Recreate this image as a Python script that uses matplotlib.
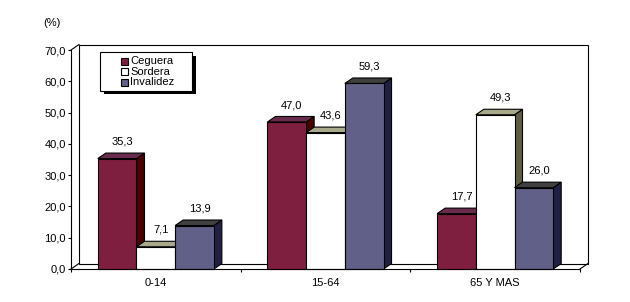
import matplotlib
matplotlib.use('Agg')
import matplotlib.pyplot as plt
from matplotlib.patches import Polygon, Rectangle
from matplotlib.ticker import FuncFormatter, MultipleLocator

plt.rcParams['font.family'] = ['Liberation Sans', 'DejaVu Sans']

# data
categories = ['0-14', '15-64', '65 Y MAS']
series_names = ['Ceguera', 'Sordera', 'Invalidez']
ceguera = [35.3, 47.0, 17.7]
sordera = [7.1, 43.6, 49.3]
invalidez = [13.9, 59.3, 26.0]
series_values = [ceguera, sordera, invalidez]

# colours per series: front, top, side
front_colors = ['#7f1f3f', '#ffffff', '#606088']
top_colors = ['#6a2a4c', '#a8a88a', '#404040']
side_colors = ['#480000', '#5e5e40', '#202044']

W, H = 630, 302
fig = plt.figure(figsize=(W / 100, H / 100), dpi=100)
ax = fig.add_axes([71 / W, 1 - 269 / H, 509 / W, 219 / H])
ax.set_xlim(0, 3)
ax.set_ylim(0, 70)
ax.patch.set_visible(False)

# depth offset of the 3d look, in data units
dx = 8 / 509 * 3
dy = 5.5 / 219 * 70
lw = 0.8

# back wall and floor
ax.add_patch(Rectangle((dx, dy), 3, 70, facecolor='white', edgecolor='black',
                       lw=lw, clip_on=False, zorder=1))
for xs, ys in [([0, dx], [0, dy]), ([0, dx], [70, 70 + dy]), ([3, 3 + dx], [0, dy])]:
    ax.plot(xs, ys, color='black', lw=lw, clip_on=False, zorder=1)

# bars
bar_w = 0.228
z = 2
for i in range(len(categories)):
    start = i + 0.5 - 1.5 * bar_w
    for k, vals in enumerate(series_values):
        h = vals[i]
        x0 = start + k * bar_w
        x1 = x0 + bar_w
        side = Polygon([(x1, 0), (x1 + dx, dy), (x1 + dx, h + dy), (x1, h)],
                       closed=True, facecolor=side_colors[k], edgecolor='black',
                       lw=lw, clip_on=False, zorder=z)
        top = Polygon([(x0, h), (x0 + dx, h + dy), (x1 + dx, h + dy), (x1, h)],
                      closed=True, facecolor=top_colors[k], edgecolor='black',
                      lw=lw, clip_on=False, zorder=z)
        front = Rectangle((x0, 0), bar_w, h, facecolor=front_colors[k],
                          edgecolor='black', lw=lw, clip_on=False, zorder=z)
        ax.add_patch(side)
        ax.add_patch(top)
        ax.add_patch(front)
        z += 1
        ax.annotate(f'{h:.1f}'.replace('.', ','), xy=(x0 + bar_w / 2, h),
                    xytext=(3.6, 12.2), textcoords='offset points',
                    ha='center', va='center', fontsize=8, zorder=50)

# axes
for s in ['top', 'right']:
    ax.spines[s].set_visible(False)
for s in ['left', 'bottom']:
    ax.spines[s].set_linewidth(lw)
    ax.spines[s].set_zorder(40)

ax.yaxis.set_major_locator(MultipleLocator(10))
ax.yaxis.set_major_formatter(FuncFormatter(lambda v, p: f'{v:.1f}'.replace('.', ',')))
ax.tick_params(axis='y', length=2.2, width=lw, pad=1.5, labelsize=8)

ax.set_xticks([0, 1, 2, 3])
ax.set_xticklabels([''] * 4)
ax.set_xticks([0.5, 1.5, 2.5], minor=True)
ax.set_xticklabels(categories, minor=True)
ax.tick_params(axis='x', which='major', length=2.2, width=lw)
ax.tick_params(axis='x', which='minor', length=0, pad=6.5, labelsize=8)

fig.text(51.7 / W, 1 - 22.7 / H, '(%)', ha='center', va='center', fontsize=8)

# legend drawn by hand
def fx(x):
    return x / W

def fy(y):
    return 1 - y / H

fig.add_artist(Rectangle((fx(104), fy(94)), fx(196) - fx(104), fy(56) - fy(94),
                         facecolor='black', edgecolor='none', zorder=60))
fig.add_artist(Rectangle((fx(100), fy(91)), fx(192) - fx(100), fy(52.3) - fy(91),
                         facecolor='white', edgecolor='black', lw=lw, zorder=61))
for k, name in enumerate(series_names):
    yc = 61.3 + k * 10.4
    fig.add_artist(Rectangle((fx(121), fy(yc + 3.5)), fx(7), 7 / H,
                             facecolor=front_colors[k], edgecolor='black',
                             lw=lw, zorder=62))
    fig.text(fx(130), fy(yc), name, ha='left', va='center', fontsize=8, zorder=63)

fig.savefig('out.png', dpi=100)
